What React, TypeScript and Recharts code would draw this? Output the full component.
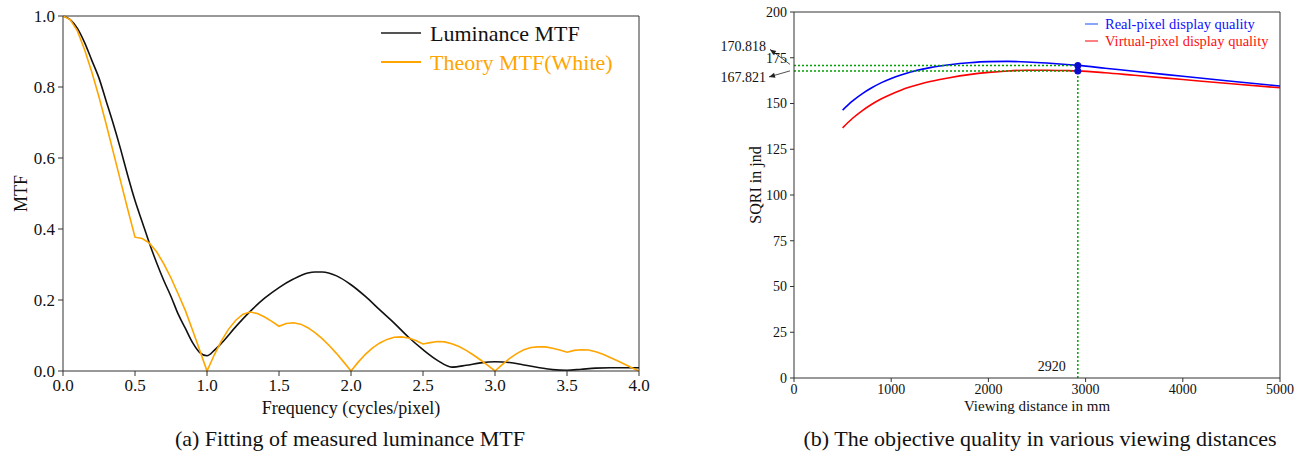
import React from 'react';
import { LineChart, Line, XAxis, YAxis, ReferenceLine, ReferenceDot, Legend } from 'recharts';

const FONT = '"Liberation Serif", "Times New Roman", serif';

// ---------- (a) MTF chart data ----------
const freqMeasured = [0, 0.05, 0.1, 0.15, 0.2, 0.25, 0.3, 0.35, 0.4, 0.45, 0.5, 0.55, 0.6, 0.65, 0.7, 0.75, 0.8, 0.85, 0.9, 0.95, 1.0, 1.05, 1.1, 1.2, 1.3, 1.4, 1.5, 1.6, 1.7, 1.75, 1.8, 1.9, 2.0, 2.1, 2.2, 2.3, 2.4, 2.5, 2.6, 2.7, 2.8, 2.9, 3.0, 3.1, 3.2, 3.3, 3.4, 3.5, 3.6, 3.7, 3.8, 4.0];
const luminanceMTF = [1.0, 0.99, 0.965, 0.925, 0.875, 0.825, 0.76, 0.695, 0.625, 0.55, 0.48, 0.42, 0.36, 0.305, 0.255, 0.21, 0.16, 0.12, 0.08, 0.052, 0.043, 0.058, 0.078, 0.125, 0.168, 0.205, 0.235, 0.259, 0.276, 0.279, 0.279, 0.268, 0.243, 0.21, 0.172, 0.135, 0.095, 0.06, 0.03, 0.011, 0.016, 0.023, 0.026, 0.024, 0.017, 0.01, 0.004, 0.002, 0.005, 0.008, 0.009, 0.009];

const freqTheory = [0, 0.05, 0.1, 0.15, 0.2, 0.25, 0.3, 0.35, 0.4, 0.45, 0.5, 0.55, 0.6, 0.65, 0.7, 0.75, 0.8, 0.85, 0.9, 0.95, 1.0, 1.05, 1.1, 1.15, 1.2, 1.25, 1.3, 1.35, 1.4, 1.45, 1.5, 1.55, 1.6, 1.65, 1.7, 1.75, 1.8, 1.85, 1.9, 1.95, 2.0, 2.05, 2.1, 2.15, 2.2, 2.25, 2.3, 2.35, 2.4, 2.45, 2.5, 2.55, 2.6, 2.65, 2.7, 2.75, 2.8, 2.85, 2.9, 2.95, 3.0, 3.05, 3.1, 3.15, 3.2, 3.25, 3.3, 3.35, 3.4, 3.45, 3.5, 3.55, 3.6, 3.65, 3.7, 3.75, 3.8, 3.85, 3.9, 3.95, 4.0];
const theoryMTF = [1.0, 0.99, 0.958, 0.905, 0.842, 0.772, 0.695, 0.615, 0.535, 0.455, 0.377, 0.373, 0.36, 0.336, 0.302, 0.262, 0.217, 0.17, 0.115, 0.058, 0.0, 0.045, 0.085, 0.118, 0.143, 0.16, 0.166, 0.162, 0.152, 0.14, 0.126, 0.134, 0.136, 0.132, 0.122, 0.108, 0.091, 0.071, 0.049, 0.025, 0.0, 0.025, 0.047, 0.065, 0.079, 0.089, 0.095, 0.096, 0.093, 0.086, 0.076, 0.08, 0.083, 0.082, 0.077, 0.069, 0.058, 0.045, 0.031, 0.016, 0.0, 0.018, 0.035, 0.049, 0.06, 0.066, 0.068, 0.068, 0.064, 0.059, 0.053, 0.058, 0.06, 0.059, 0.054, 0.047, 0.038, 0.029, 0.019, 0.009, 0.0];

const freqTicks = [0, 0.5, 1.0, 1.5, 2.0, 2.5, 3.0, 3.5, 4.0];
const mtfTicks = [0, 0.2, 0.4, 0.6, 0.8, 1.0];
const mtfSeriesNames = ['Luminance MTF', 'Theory MTF(White)'];

// ---------- (b) SQRI chart data ----------
const distances = [500, 600, 700, 800, 900, 1000, 1100, 1200, 1300, 1400, 1500, 1600, 1800, 2000, 2200, 2400, 2600, 2800, 2920, 3200, 3500, 4000, 4500, 5000];
const realPixelSQRI = [146.4, 151.3, 155.3, 158.6, 161.4, 163.7, 165.6, 167.2, 168.5, 169.6, 170.5, 171.2, 172.3, 172.9, 173.0, 172.7, 172.1, 171.3, 170.818, 169.3, 167.6, 164.9, 162.2, 159.5];
const virtualPixelSQRI = [136.7, 141.8, 146.0, 149.6, 152.6, 155.1, 157.3, 159.1, 160.7, 162.0, 163.1, 164.1, 165.8, 167.0, 167.8, 168.2, 168.2, 168.0, 167.821, 166.8, 165.4, 163.1, 160.8, 158.6];
const distTicks = [0, 1000, 2000, 3000, 4000, 5000];
const sqriTicks = [0, 25, 50, 75, 100, 125, 150, 175, 200];
const sqriSeriesNames = ['Real-pixel display quality', 'Virtual-pixel display quality'];
const optimalDistance = 2920;
const realAtOptimal = 170.818;
const virtualAtOptimal = 167.821;

const measuredData = freqMeasured.map((f, i) => ({ f, v: luminanceMTF[i] }));
const theoryData = freqTheory.map((f, i) => ({ f, v: theoryMTF[i] }));
const realData = distances.map((d, i) => ({ d, v: realPixelSQRI[i] }));
const virtualData = distances.map((d, i) => ({ d, v: virtualPixelSQRI[i] }));

const GREEN = '#00a000';

function arrowHead(x1: number, y1: number, x2: number, y2: number) {
  const dx = x2 - x1, dy = y2 - y1;
  const len = Math.sqrt(dx * dx + dy * dy);
  const ux = dx / len, uy = dy / len;
  const L = 6, W = 2.5;
  const bx = x2 - ux * L, by = y2 - uy * L;
  return `${x2},${y2} ${bx - uy * W},${by + ux * W} ${bx + uy * W},${by - ux * W}`;
}

const makeAnnotation = (text: string, tipDx: number, tipDy: number, textDy: number) => (props: any) => {
  const { cx, cy } = props;
  const x1 = cx - 4, y1 = cy - (tipDy < 0 ? 1 : 0);
  const x2 = cx + tipDx, y2 = cy + tipDy;
  return (
    <g>
      <line x1={x1} y1={y1} x2={x2} y2={y2} stroke="#222" strokeWidth={0.8} />
      <polygon points={arrowHead(x1, y1, x2, y2)} fill="#222" />
      <text x={cx - 28} y={cy + textDy} textAnchor="end" dominantBaseline="central" fontSize={14} fontFamily={FONT} fill="#111">
        {text}
      </text>
    </g>
  );
};

const DistanceLabel = (props: any) => {
  const { cx, cy } = props;
  return (
    <text x={cx - 12} y={cy - 7.5} textAnchor="end" fontSize={14} fontFamily={FONT} fill="#111">
      {String(optimalDistance)}
    </text>
  );
};

const MtfLegend = () => {
  const colors = ['#555', '#FFA500'];
  const textColors = ['#111', '#FFA500'];
  return (
    <div style={{ fontFamily: FONT }}>
      {mtfSeriesNames.map((n, i) => (
        <div key={n} style={{ display: 'flex', alignItems: 'center', height: 29 }}>
          <span style={{ display: 'inline-block', width: 40, height: 1.6, background: colors[i], marginRight: 9 }} />
          <span style={{ fontSize: 22, color: textColors[i], whiteSpace: 'nowrap', lineHeight: '29px' }}>{n}</span>
        </div>
      ))}
    </div>
  );
};

const SqriLegend = () => {
  const colors = ['#86a6ff', '#ff8080'];
  const textColors = ['#1010ff', '#ff1010'];
  return (
    <div style={{ fontFamily: FONT }}>
      {sqriSeriesNames.map((n, i) => (
        <div key={n} style={{ display: 'flex', alignItems: 'center', height: 17 }}>
          <span style={{ display: 'inline-block', width: 13, height: 1.5, background: colors[i], marginRight: 7 }} />
          <span style={{ fontSize: 14.5, color: textColors[i], whiteSpace: 'nowrap', lineHeight: '17px' }}>{n}</span>
        </div>
      ))}
    </div>
  );
};

const SqriYLabel = (props: any) => {
  const vb = props.viewBox;
  const x = vb.x + 21;
  const y = vb.y + vb.height / 2 - 10;
  return (
    <text x={x} y={y} transform={`rotate(-90 ${x} ${y})`} textAnchor="middle" dominantBaseline="central" fontSize={16} fontFamily={FONT} fill="#111">
      SQRI in jnd
    </text>
  );
};

export default function App() {
  const axisStroke = '#333';
  return (
    <div style={{ position: 'absolute', left: 0, top: 0, width: 1309, height: 456, background: '#fff', fontFamily: FONT, overflow: 'hidden' }}>
      {/* (a) */}
      <div style={{ position: 'absolute', left: 0, top: 0 }}>
        <LineChart width={660} height={456} margin={{ top: 16, right: 21, bottom: 55, left: 0 }}>
          <XAxis
            dataKey="f"
            type="number"
            domain={[0, 4]}
            ticks={freqTicks}
            tickFormatter={(v: number) => v.toFixed(1)}
            height={30}
            stroke={axisStroke}
            tickSize={5}
            tickMargin={3}
            tick={{ fontSize: 17, fontFamily: FONT, fill: '#111' }}
            label={{ value: 'Frequency (cycles/pixel)', position: 'bottom', offset: 0, style: { fontSize: 18, fontFamily: FONT, fill: '#111' } }}
          />
          <YAxis
            type="number"
            domain={[0, 1]}
            ticks={mtfTicks}
            tickFormatter={(v: number) => v.toFixed(1)}
            width={63}
            stroke={axisStroke}
            tickSize={5}
            tickMargin={3}
            tick={{ fontSize: 17, fontFamily: FONT, fill: '#111' }}
            label={{ value: 'MTF', angle: -90, position: 'insideLeft', offset: 21, style: { fontSize: 18, fontFamily: FONT, fill: '#111', textAnchor: 'middle' } }}
          />
          <ReferenceLine y={1} stroke={axisStroke} strokeWidth={1} />
          <ReferenceLine x={4} stroke={axisStroke} strokeWidth={1} />
          <Line data={measuredData} dataKey="v" name={mtfSeriesNames[0]} type="monotone" stroke="#111" strokeWidth={1.6} dot={false} isAnimationActive={false} />
          <Line data={theoryData} dataKey="v" name={mtfSeriesNames[1]} type="linear" stroke="#FFA500" strokeWidth={1.6} dot={false} isAnimationActive={false} />
          <Legend layout="vertical" verticalAlign="middle" align="center" content={<MtfLegend />} wrapperStyle={{ position: 'absolute', left: 381, top: 18.5, width: 'auto', height: 'auto' }} />
        </LineChart>
      </div>

      {/* (b) */}
      <div style={{ position: 'absolute', left: 690, top: 0 }}>
        <LineChart width={619} height={456} margin={{ top: 12, right: 29, bottom: 50, left: 44 }}>
          <XAxis
            dataKey="d"
            type="number"
            domain={[0, 5000]}
            ticks={distTicks}
            height={28}
            stroke={axisStroke}
            tickSize={4}
            tickMargin={2}
            tick={{ fontSize: 14, fontFamily: FONT, fill: '#111' }}
            label={{ value: 'Viewing distance in mm', position: 'bottom', offset: -6, style: { fontSize: 15, fontFamily: FONT, fill: '#111' } }}
          />
          <YAxis
            type="number"
            domain={[0, 200]}
            ticks={sqriTicks}
            width={60}
            stroke={axisStroke}
            tickSize={4}
            tickMargin={3}
            tick={{ fontSize: 14, fontFamily: FONT, fill: '#111' }}
            label={{ content: <SqriYLabel /> }}
          />
          <ReferenceLine y={200} stroke={axisStroke} strokeWidth={1} />
          <ReferenceLine x={5000} stroke={axisStroke} strokeWidth={1} />
          <Line data={realData} dataKey="v" name={sqriSeriesNames[0]} type="monotone" stroke="#0000ff" strokeWidth={1.6} dot={false} isAnimationActive={false} />
          <Line data={virtualData} dataKey="v" name={sqriSeriesNames[1]} type="monotone" stroke="#ff0000" strokeWidth={1.6} dot={false} isAnimationActive={false} />
          <ReferenceLine segment={[{ x: 0, y: realAtOptimal }, { x: optimalDistance, y: realAtOptimal }]} stroke={GREEN} strokeWidth={1.5} strokeDasharray="2 2" />
          <ReferenceLine segment={[{ x: 0, y: virtualAtOptimal }, { x: optimalDistance, y: virtualAtOptimal }]} stroke={GREEN} strokeWidth={1.5} strokeDasharray="2 2" />
          <ReferenceLine segment={[{ x: optimalDistance, y: 0 }, { x: optimalDistance, y: realAtOptimal }]} stroke={GREEN} strokeWidth={1.5} strokeDasharray="2 2" />
          <ReferenceDot x={optimalDistance} y={realAtOptimal} r={3.5} fill="#0a0ad0" stroke="none" />
          <ReferenceDot x={optimalDistance} y={virtualAtOptimal} r={3.5} fill="#0a0ad0" stroke="none" />
          <ReferenceDot x={0} y={realAtOptimal} r={0} ifOverflow="visible" shape={makeAnnotation(String(realAtOptimal), -24, -16, -18.7)} />
          <ReferenceDot x={0} y={virtualAtOptimal} r={0} ifOverflow="visible" shape={makeAnnotation(String(virtualAtOptimal), -25, 6, 6.4)} />
          <ReferenceDot x={optimalDistance} y={0} r={0} ifOverflow="visible" shape={DistanceLabel} />
          <Legend layout="vertical" verticalAlign="middle" align="center" content={<SqriLegend />} wrapperStyle={{ position: 'absolute', left: 395, top: 15.5, width: 'auto', height: 'auto' }} />
        </LineChart>
      </div>

      <div style={{ position: 'absolute', left: 350, top: 428, transform: 'translateX(-50%)', fontSize: 22, lineHeight: '22px', whiteSpace: 'nowrap', color: '#111' }}>
        (a) Fitting of measured luminance MTF
      </div>
      <div style={{ position: 'absolute', left: 1040, top: 428, transform: 'translateX(-50%)', fontSize: 22, lineHeight: '22px', whiteSpace: 'nowrap', color: '#111' }}>
        (b) The objective quality in various viewing distances
      </div>
    </div>
  );
}
